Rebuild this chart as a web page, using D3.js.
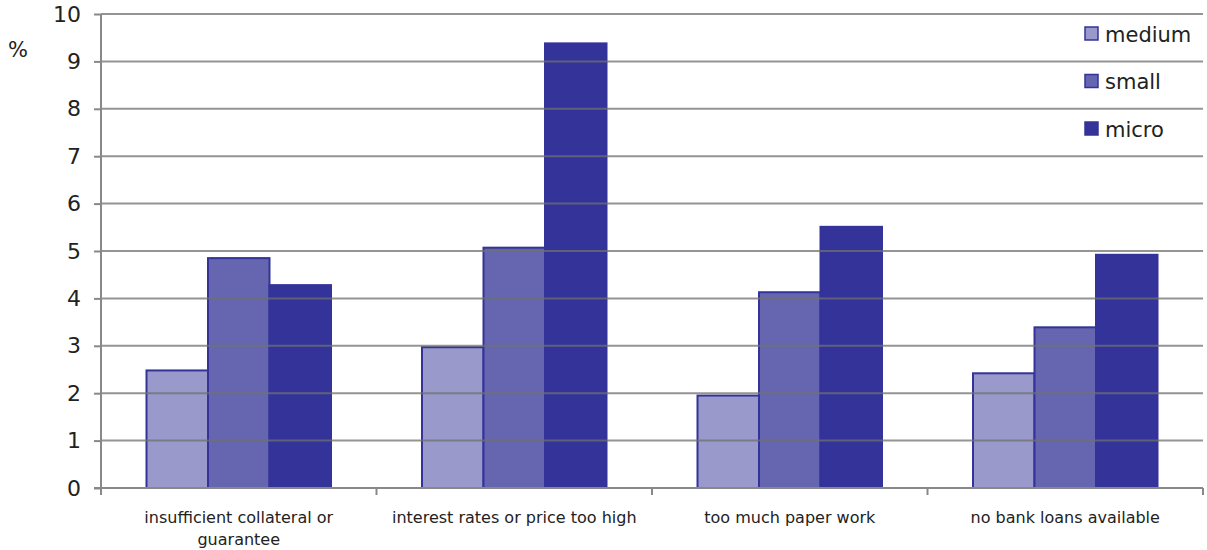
<!DOCTYPE html>
<html lang="en">
<head>
<meta charset="utf-8">
<title>Loan obstacles by firm size</title>
<script src="https://d3js.org/d3.v7.min.js"></script>
<style>
  body { margin: 0; background: #fff; font-family: 'DejaVu Sans', sans-serif; }
  .xlabel { font-size: 16px; fill: #222; }
  .legend text { font-size: 21px; fill: #222; }
</style>
</head>
<body>
<div id="chart"></div>
<script>
// categories and series
var categories = ["insufficient collateral or guarantee", "interest rates or price too high", "too much paper work", "no bank loans available"];
var seriesNames = ["medium", "small", "micro"];
var medium = [2.48, 2.97, 1.95, 2.42];
var small = [4.85, 5.07, 4.13, 3.39];
var micro = [4.28, 9.38, 5.51, 4.92];
var yTicks = [0, 1, 2, 3, 4, 5, 6, 7, 8, 9, 10];

var colours = { medium: "#9999cc", small: "#6666b0", micro: "#333399" };
var values = { medium: medium, small: small, micro: micro };

var margin = {top: 14, right: 4, bottom: 62, left: 101},
    width = 1207 - margin.left - margin.right,
    height = 550 - margin.top - margin.bottom;

var svg = d3.select("#chart")
  .append("svg")
    .attr("width", 1207)
    .attr("height", 550)
  .append("g")
    .attr("transform", "translate(" + margin.left + "," + margin.top + ")");

var x = d3.scaleBand()
  .domain(categories)
  .range([0, width])
  .paddingInner(0)
  .paddingOuter(0);

var xs = d3.scaleBand()
  .domain(seriesNames)
  .range([45.5, x.bandwidth() - 45.5]);

var y = d3.scaleLinear()
  .domain([0, 10])
  .range([height, 0]);

// bars
categories.forEach(function(c, i) {
  seriesNames.forEach(function(s) {
    svg.append("rect")
      .attr("x", x(c) + xs(s))
      .attr("y", y(values[s][i]))
      .attr("width", xs.bandwidth())
      .attr("height", y(0) - y(values[s][i]))
      .style("fill", colours[s])
      .style("stroke", "#333399")
      .style("stroke-width", 2);
  });
});

// gridlines drawn over the bars, a little see-through
svg.append("g")
  .selectAll("line")
  .data(yTicks.slice(1))
  .enter()
  .append("line")
    .attr("x1", 0)
    .attr("x2", width)
    .attr("y1", function(d) { return y(d) })
    .attr("y2", function(d) { return y(d) })
    .style("stroke", "#707070")
    .style("stroke-opacity", 0.75)
    .style("stroke-width", 2);

// y axis
var yAxis = svg.append("g")
  .call(d3.axisLeft(y).tickValues(yTicks).tickSize(7).tickPadding(13));
yAxis.selectAll("line").style("stroke", "#888").style("stroke-width", 2);
yAxis.select(".domain").style("stroke", "#888").style("stroke-width", 2).attr("d", "M0," + (height + 7) + "V0");
yAxis.selectAll("text").style("font-family", "'DejaVu Sans', sans-serif").style("font-size", "22px").attr("fill", "#222");

// x axis line and ticks at band edges
svg.append("line")
  .attr("x1", -7).attr("x2", width)
  .attr("y1", height).attr("y2", height)
  .style("stroke", "#888").style("stroke-width", 2);

svg.append("g")
  .selectAll("line")
  .data(categories)
  .enter()
  .append("line")
    .attr("x1", function(d) { return x(d) + x.bandwidth() })
    .attr("x2", function(d) { return x(d) + x.bandwidth() })
    .attr("y1", height)
    .attr("y2", height + 7)
    .style("stroke", "#888").style("stroke-width", 2);

// category labels, wrapped to the band width
function wrap(text, w) {
  text.each(function() {
    var t = d3.select(this),
        words = t.text().split(/\s+/),
        line = [],
        xx = t.attr("x"),
        tspan = t.text(null).append("tspan").attr("x", xx).attr("dy", 0);
    words.forEach(function(word) {
      line.push(word);
      tspan.text(line.join(" "));
      if (tspan.node().getComputedTextLength() > w && line.length > 1) {
        line.pop();
        tspan.text(line.join(" "));
        line = [word];
        tspan = t.append("tspan").attr("x", xx).attr("dy", "1.4em").text(word);
      }
    });
  });
}

svg.append("g")
  .selectAll("text")
  .data(categories)
  .enter()
  .append("text")
    .attr("class", "xlabel")
    .attr("x", function(d) { return x(d) + x.bandwidth() / 2 })
    .attr("y", height + 35)
    .attr("text-anchor", "middle")
    .text(function(d) { return d })
    .call(wrap, 255);

// unit label
svg.append("text")
  .attr("x", -93)
  .attr("y", 43)
  .style("font-size", "21px")
  .attr("fill", "#222")
  .text("%");

// legend
var legend = svg.append("g")
  .attr("class", "legend")
  .selectAll("g")
  .data(seriesNames)
  .enter()
  .append("g")
    .attr("transform", function(d, i) { return "translate(" + (984) + "," + (13 + i * 47.5) + ")" });

legend.append("rect")
  .attr("width", 13)
  .attr("height", 13)
  .style("fill", function(d) { return colours[d] })
  .style("stroke", "#333399")
  .style("stroke-width", 1.5);

legend.append("text")
  .attr("x", 20)
  .attr("y", 14.5)
  .text(function(d) { return d });
</script>
</body>
</html>
